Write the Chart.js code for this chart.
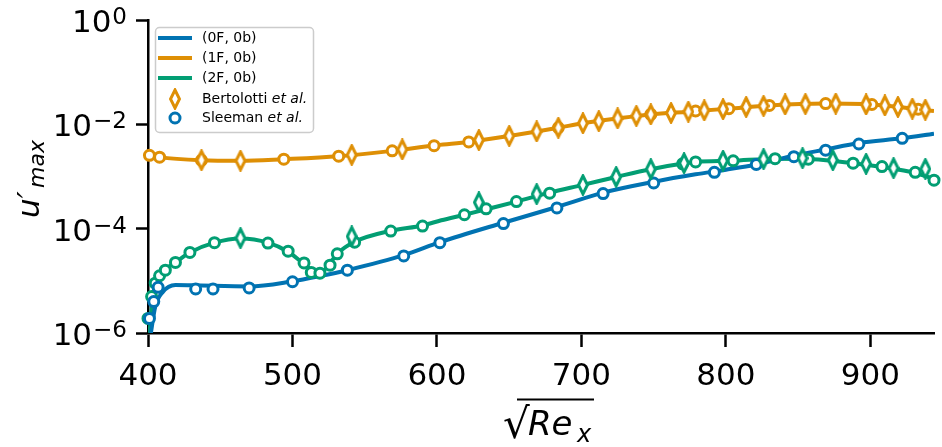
<!DOCTYPE html>
<html>
<head>
<meta charset="utf-8">
<script src="https://cdn.jsdelivr.net/npm/chart.js@4.4.0/dist/chart.umd.min.js"></script>
<style>
  html, body { margin: 0; padding: 0; background: #fff; }
  canvas { display: block; }
</style>
</head>
<body>
<canvas id="chart" width="942" height="447"></canvas>
<script>
// axis ticks
const xTicks = [400, 500, 600, 700, 800, 900];
const yTicks = [1e-6, 1e-4, 1e-2, 1];
const yTickExp = ["\u22126", "\u22124", "\u22122", "0"];

// (0F, 0b) computed curve
const lineX_0F = [402, 405, 410, 419, 431, 470, 500, 519, 538, 577, 602, 646, 683, 715, 750, 779, 800, 821, 847, 869, 892, 922, 944];
const lineY_0F = [1.0e-6, 3.2e-6, 6.0e-6, 8.3e-6, 8.2e-6, 7.8e-6, 9.8e-6, 1.23e-5, 1.6e-5, 3.1e-5, 5.5e-5, 1.3e-4, 2.6e-4, 4.9e-4, 7.9e-4, 1.1e-3, 1.35e-3, 1.7e-3, 2.5e-3, 3.3e-3, 4.4e-3, 5.4e-3, 6.6e-3];

// (1F, 0b) computed curve
const lineX_1F = [400, 408, 437, 464, 494, 532, 569, 600, 622, 650, 669, 684, 701, 725, 748, 774, 802, 830, 869, 901, 933, 944];
const lineY_1F = [2.6e-3, 2.35e-3, 2.05e-3, 2.0e-3, 2.15e-3, 2.45e-3, 3.1e-3, 4.0e-3, 4.6e-3, 6.0e-3, 7.3e-3, 8.6e-3, 1.05e-2, 1.3e-2, 1.55e-2, 1.75e-2, 2.0e-2, 2.3e-2, 2.5e-2, 2.4e-2, 1.95e-2, 1.8e-2];

// (2F, 0b) computed curve
const lineX_2F = [401, 403.5, 407, 410, 419, 429, 446, 464, 483, 497, 509, 516, 521, 526, 531, 543, 568, 590, 603, 619, 634, 655, 678, 701, 724, 748, 779, 804, 834, 860, 888, 910, 931, 944];
const lineY_2F = [1.0e-6, 5.0e-6, 9.8e-6, 1.45e-5, 2.25e-5, 3.5e-5, 5.4e-5, 6.5e-5, 5.4e-5, 3.6e-5, 2.0e-5, 1.5e-5, 1.55e-5, 2.2e-5, 3.3e-5, 5.6e-5, 9.1e-5, 1.15e-4, 1.45e-4, 1.85e-4, 2.35e-4, 3.3e-4, 4.9e-4, 6.9e-4, 9.8e-4, 1.38e-3, 1.9e-3, 2.0e-3, 2.2e-3, 2.15e-3, 1.8e-3, 1.5e-3, 1.17e-3, 9.0e-4];

// Sleeman et al. (circles)
const sleemanX_0F = [401, 404, 407, 433, 445, 470, 500, 538, 577, 602, 646, 683, 715, 750, 792, 821, 847, 869, 892, 922];
const sleemanY_0F = [1.9e-6, 4.0e-6, 7.5e-6, 7.0e-6, 7.0e-6, 7.3e-6, 9.6e-6, 1.6e-5, 3.0e-5, 5.4e-5, 1.25e-4, 2.5e-4, 4.7e-4, 7.5e-4, 1.2e-3, 1.7e-3, 2.4e-3, 3.2e-3, 4.2e-3, 5.4e-3];
const sleemanX_1F = [401, 408, 437, 494, 532, 569, 598, 622, 684, 748, 779, 802, 830, 869, 901, 933];
const sleemanY_1F = [2.55e-3, 2.35e-3, 2.05e-3, 2.15e-3, 2.45e-3, 3.1e-3, 3.9e-3, 4.6e-3, 8.6e-3, 1.55e-2, 1.8e-2, 2.0e-2, 2.3e-2, 2.5e-2, 2.4e-2, 1.95e-2];
const sleemanX_2F = [400, 402.5, 405, 408, 412, 419, 429, 446, 483, 497, 508, 513, 519, 526, 531, 543, 568, 590, 619, 634, 655, 678, 770, 779, 805, 834, 857, 888, 908, 931, 944];
const sleemanY_2F = [1.9e-6, 5e-6, 9e-6, 1.25e-5, 1.6e-5, 2.25e-5, 3.5e-5, 5.4e-5, 5.3e-5, 3.7e-5, 2.2e-5, 1.45e-5, 1.4e-5, 2.0e-5, 3.3e-5, 5.5e-5, 9.0e-5, 1.12e-4, 1.85e-4, 2.4e-4, 3.3e-4, 4.8e-4, 1.75e-3, 1.9e-3, 2.0e-3, 2.2e-3, 2.15e-3, 1.8e-3, 1.55e-3, 1.2e-3, 8.5e-4];

// Bertolotti et al. (thin diamonds)
const bertolottiX_1F = [437, 464, 541, 576, 629, 650, 669, 684, 701, 712, 725, 738, 748, 762, 774, 785, 798, 814, 826, 841, 855, 876, 897, 910, 919, 929, 938];
const bertolottiY_1F = [2.05e-3, 2.0e-3, 2.6e-3, 3.3e-3, 5.0e-3, 6.0e-3, 7.3e-3, 8.6e-3, 1.05e-2, 1.15e-2, 1.3e-2, 1.45e-2, 1.55e-2, 1.65e-2, 1.75e-2, 1.85e-2, 1.95e-2, 2.15e-2, 2.25e-2, 2.4e-2, 2.45e-2, 2.5e-2, 2.4e-2, 2.3e-2, 2.15e-2, 2.0e-2, 1.9e-2];
const bertolottiX_2F = [464, 541, 629, 669, 701, 724, 748, 771, 798, 826, 853, 874, 897, 916, 938];
const bertolottiY_2F = [6.6e-5, 7.1e-5, 3.2e-4, 4.6e-4, 6.9e-4, 9.8e-4, 1.38e-3, 1.8e-3, 2.0e-3, 2.15e-3, 2.25e-3, 2.05e-3, 1.75e-3, 1.45e-3, 1.4e-3];

const BLUE = "#0173B2", ORANGE = "#DE8F05", GREEN = "#029E73";
const FONT = '"DejaVu Sans", sans-serif';

const pts = (xs, ys) => xs.map((x, i) => ({ x, y: ys[i] }));

function diamondMarker(color) {
  const c = document.createElement("canvas");
  c.width = 12; c.height = 22;
  const g = c.getContext("2d");
  g.strokeStyle = color; g.lineWidth = 3; g.fillStyle = "#fff";
  g.beginPath();
  g.moveTo(6, 2); g.lineTo(10.5, 11); g.lineTo(6, 20); g.lineTo(1.5, 11);
  g.closePath(); g.fill(); g.stroke();
  return c;
}
const diamondOrange = diamondMarker(ORANGE);
const diamondGreen = diamondMarker(GREEN);

const lineDs = (label, xs, ys, color) => ({
  label, data: pts(xs, ys), showLine: true, borderColor: color, borderWidth: 4,
  pointRadius: 0, cubicInterpolationMode: "monotone", order: 2
});
const circleDs = (label, xs, ys, color) => ({
  label, data: pts(xs, ys), showLine: false, pointStyle: "circle", pointRadius: 5,
  pointBorderWidth: 3, pointBorderColor: color, pointBackgroundColor: "#fff", order: 1, clip: 8
});
const diamondDs = (label, xs, ys, img) => ({
  label, data: pts(xs, ys), showLine: false, pointStyle: img, pointRadius: 7, order: 0, clip: 8
});

// texts drawn on top: y tick labels with exponents, axis titles, legend
const decor = {
  id: "decor",
  afterDraw(chart) {
    const ctx = chart.ctx, ys = chart.scales.y;
    ctx.save();
    ctx.fillStyle = "#000";
    ctx.textAlign = "right";
    ctx.textBaseline = "alphabetic";
    yTicks.forEach((v, i) => {
      const py = ys.getPixelForValue(v);
      ctx.font = "23px " + FONT;
      const ew = ctx.measureText(yTickExp[i]).width;
      ctx.fillText(yTickExp[i], 127, py + 4);
      ctx.font = "31px " + FONT;
      ctx.fillText("10", 127 - ew - 1, py + 12);
    });

    // y title u'_max
    ctx.save();
    ctx.translate(39, 218);
    ctx.rotate(-Math.PI / 2);
    ctx.textAlign = "left";
    ctx.font = "italic 31px " + FONT;
    ctx.fillText("u\u2032", 0, 0);
    ctx.font = "italic 22px " + FONT;
    ctx.fillText("max", 30, 5);
    ctx.restore();

    // x title sqrt(Re_x)
    ctx.textAlign = "left";
    ctx.font = "42px " + FONT;
    ctx.fillText("\u221A", 503, 438);
    ctx.font = "italic 34px " + FONT;
    ctx.fillText("Re", 528, 435);
    ctx.font = "italic 24px " + FONT;
    ctx.fillText("x", 577, 442);
    ctx.strokeStyle = "#000";
    ctx.lineWidth = 2;
    ctx.beginPath();
    ctx.moveTo(517, 399.5); ctx.lineTo(594, 399.5);
    ctx.stroke();

    // legend
    ctx.beginPath();
    ctx.roundRect(155.5, 27.5, 158, 105, 4);
    ctx.fillStyle = "rgba(255,255,255,0.8)";
    ctx.fill();
    ctx.strokeStyle = "#cccccc";
    ctx.lineWidth = 1.5;
    ctx.stroke();
    const rows = [
      ["line", BLUE, "(0F, 0b)", ""],
      ["line", ORANGE, "(1F, 0b)", ""],
      ["line", GREEN, "(2F, 0b)", ""],
      ["diamond", ORANGE, "Bertolotti ", "et al."],
      ["circle", BLUE, "Sleeman ", "et al."]
    ];
    const rowY = [38, 58, 78, 99, 118];
    rows.forEach((r, i) => {
      const ry = rowY[i];
      if (r[0] === "line") {
        ctx.strokeStyle = r[1]; ctx.lineWidth = 4;
        ctx.beginPath(); ctx.moveTo(158, ry); ctx.lineTo(192, ry); ctx.stroke();
      } else if (r[0] === "diamond") {
        ctx.drawImage(diamondOrange, 175 - 6, ry - 11);
      } else {
        ctx.strokeStyle = r[1]; ctx.lineWidth = 3; ctx.fillStyle = "#fff";
        ctx.beginPath(); ctx.arc(175, ry, 5, 0, Math.PI * 2); ctx.fill(); ctx.stroke();
      }
      ctx.fillStyle = "#000";
      ctx.textBaseline = "middle";
      ctx.font = "14px " + FONT;
      ctx.fillText(r[2], 202, ry);
      if (r[3]) {
        const w = ctx.measureText(r[2]).width;
        ctx.font = "italic 14px " + FONT;
        ctx.fillText(r[3], 202 + w, ry);
      }
    });
    ctx.restore();
  }
};

new Chart(document.getElementById("chart"), {
  type: "scatter",
  data: {
    datasets: [
      diamondDs("Bertolotti et al. (1F)", bertolottiX_1F, bertolottiY_1F, diamondOrange),
      diamondDs("Bertolotti et al. (2F)", bertolottiX_2F, bertolottiY_2F, diamondGreen),
      circleDs("Sleeman et al. (0F)", sleemanX_0F, sleemanY_0F, BLUE),
      circleDs("Sleeman et al. (1F)", sleemanX_1F, sleemanY_1F, ORANGE),
      circleDs("Sleeman et al. (2F)", sleemanX_2F, sleemanY_2F, GREEN),
      lineDs("(0F, 0b)", lineX_0F, lineY_0F, BLUE),
      lineDs("(1F, 0b)", lineX_1F, lineY_1F, ORANGE),
      lineDs("(2F, 0b)", lineX_2F, lineY_2F, GREEN)
    ]
  },
  options: {
    responsive: false,
    animation: false,
    devicePixelRatio: 1,
    layout: { padding: { top: 20, left: 0, right: 0, bottom: 0 } },
    plugins: { legend: { display: false }, tooltip: { enabled: false } },
    scales: {
      x: {
        type: "linear", min: 400, max: 944,
        afterBuildTicks: s => { s.ticks = xTicks.map(v => ({ value: v })); },
        afterFit: s => { s.height = 114; },
        border: { display: true, color: "#000", width: 2.5 },
        grid: { drawOnChartArea: false, drawTicks: true, tickLength: 14, tickWidth: 2.5, tickColor: "#000" },
        ticks: { color: "#000", font: { family: "DejaVu Sans", size: 31 }, padding: 11, maxRotation: 0, autoSkip: false }
      },
      y: {
        type: "logarithmic", min: 1e-6, max: 1,
        afterBuildTicks: s => { s.ticks = yTicks.map(v => ({ value: v })); },
        afterFit: s => { s.width = 148; },
        border: { display: true, color: "#000", width: 2.5 },
        grid: { drawOnChartArea: false, drawTicks: true, tickLength: 12, tickWidth: 2.5, tickColor: "#000" },
        ticks: { callback: () => "", font: { size: 8 } }
      }
    }
  },
  plugins: [decor]
});
</script>
</body>
</html>
